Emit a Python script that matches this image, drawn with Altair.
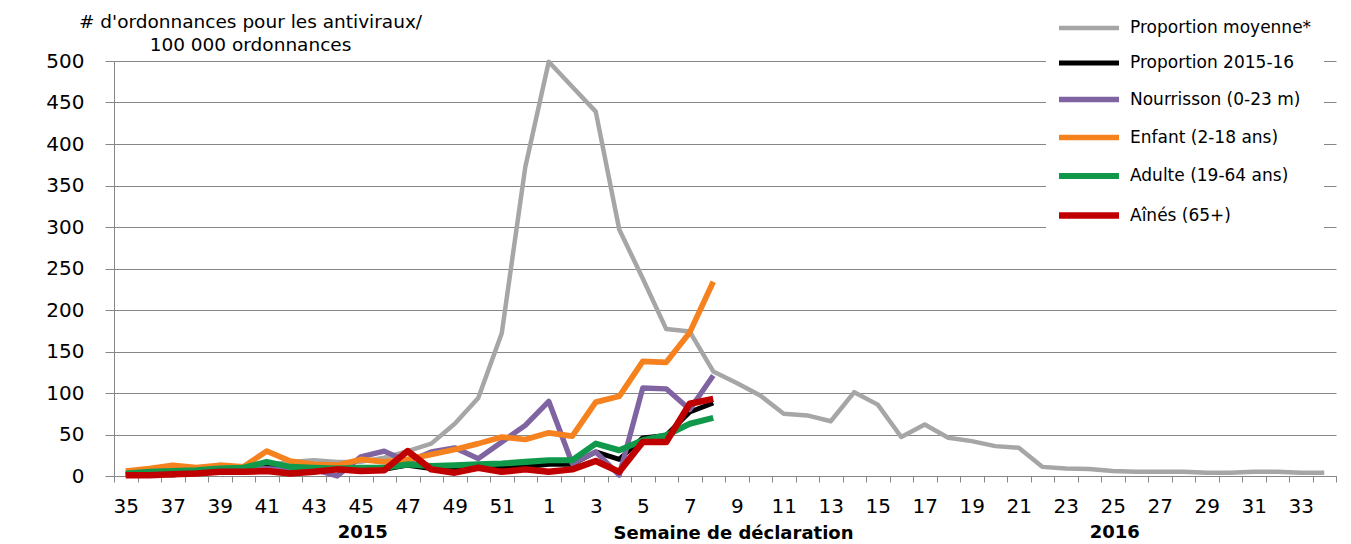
import altair as alt
import pandas as pd

# Categories: report weeks 35-52 (2015) then 1-34 (2016)
weeks = [str(w) for w in list(range(35, 53)) + list(range(1, 35))]

series_names = [
    "Proportion moyenne*",
    "Proportion 2015-16",
    "Nourrisson (0-23 m)",
    "Enfant (2-18 ans)",
    "Adulte (19-64 ans)",
    "Aînés (65+)",
]
colors = ["#A6A6A6", "#000000", "#8064A2", "#F5821F", "#10994A", "#C00000"]
widths = [4.5, 6.5, 3.5, 3.5, 3.5, 4]

moyenne = [4, 5, 6, 7, 9, 10, 13, 17, 19, 17, 17, 22, 30, 39, 63, 94, 172, 372,
           499, 469, 439, 297, 238, 177, 174, 126, 112, 97, 75, 73, 66, 101, 86, 47,
           62, 46, 42, 36, 34, 11, 9, 8.5, 6, 5, 5, 5, 4, 4, 5, 5, 4, 4]
saison = [2, 3, 4, 5, 7, 8, 12, 8, 9, 8, 7, 8, 13, 9, 8, 10, 10, 11,
          14, 14, 29, 20, 46, 49, 77, 88]
nourrisson = [2, 3, 1, 6, 12, 8, 9, 7, 8, 0, 23, 30, 17, 29, 34, 21, 41, 61,
              90, 15, 29, 1, 106, 105, 80, 121]
enfant = [6, 9, 13, 10, 13, 11, 30, 18, 14, 13, 20, 17, 20, 26, 32, 39, 47, 44,
          52, 48, 89, 96, 138, 137, 173, 234]
adulte = [3, 5, 6, 7, 9, 10, 17, 11, 10, 9, 10, 10, 14, 12, 13, 14, 15, 17,
          19, 19, 39, 31, 43, 49, 63, 70]
aines = [1, 1, 2, 3, 5, 5, 6, 3, 5, 8, 6, 7, 30, 8, 4, 10, 5, 8,
         5, 8, 18, 5, 41, 41, 87, 93]

all_values = [moyenne, saison, nourrisson, enfant, adulte, aines]

rows = []
for name, vals in zip(series_names, all_values):
    for wk, v in zip(weeks, vals):
        rows.append({"series": name, "week": wk, "value": v})
df = pd.DataFrame(rows)

year_labels = pd.DataFrame({"week": ["45", "25"], "label": ["2015", "2016"]})

FONT = "DejaVu Sans"
GRID = "#868686"

x_enc = alt.X(
    "week:N",
    sort=weeks,
    scale=alt.Scale(type="band", paddingInner=0, paddingOuter=0),
    axis=alt.Axis(
        title="Semaine de déclaration",
        titleFont=FONT,
        titleFontSize=18,
        titleFontWeight="bold",
        titleColor="#000000",
        titleX=619,
        titleY=62,
        titleAlign="center",
        titleBaseline="alphabetic",
        labelExpr="toNumber(datum.value) % 2 == 1 ? datum.value : ''",
        labelAngle=0,
        labelFont=FONT,
        labelFontSize=20,
        labelColor="#000000",
        labelPadding=14,
        labelOverlap=False,
        labelBound=False,
        tickBand="extent",
        tickSize=6,
        tickColor=GRID,
        domainColor=GRID,
        grid=False,
    ),
)

lines = alt.Chart(df).mark_line(strokeJoin="round").encode(
    x=x_enc,
    y=alt.Y(
        "value:Q",
        scale=alt.Scale(domain=[0, 500], nice=False),
        axis=alt.Axis(
            values=list(range(0, 501, 50)),
            title=["# d'ordonnances pour les antiviraux/", "100 000 ordonnances"],
            titleAngle=0,
            titleX=136,
            titleY=-34,
            titleAlign="center",
            titleBaseline="alphabetic",
            titleFont=FONT,
            titleFontSize=18.5,
            titleFontWeight="normal",
            titleColor="#000000",
            titleLineHeight=23,
            labelFont=FONT,
            labelFontSize=20,
            labelColor="#000000",
            labelPadding=21,
            tickSize=9,
            tickColor=GRID,
            domainColor=GRID,
            gridColor=GRID,
            gridWidth=1,
        ),
    ),
    color=alt.Color(
        "series:N",
        scale=alt.Scale(domain=series_names, range=colors),
        legend=alt.Legend(
            title=None,
            orient="none",
            legendX=932,
            legendY=-64,
            fillColor="white",
            padding=12,
            symbolType="M-1.8,0H1.8",
            symbolSize=1111,
            symbolOffset=11,
            symbolStrokeWidth=4,
            labelFont=FONT,
            labelFontSize=17,
            labelColor="#000000",
            labelOffset=21,
            labelLimit=0,
            rowPadding=6.5,
        ),
    ),
    strokeWidth=alt.StrokeWidth(
        "series:N",
        scale=alt.Scale(domain=series_names, range=widths),
        legend=None,
    ),
)

years = alt.Chart(year_labels).mark_text(
    font=FONT, fontSize=18, fontWeight="bold", baseline="alphabetic", dx=2, color="#000000"
).encode(
    x=alt.X("week:N", sort=weeks),
    y=alt.value(477),
    text="label:N",
)

chart = alt.layer(lines, years).properties(
    width=1222,
    height=415,
    autosize=alt.AutoSizeParams(type="none"),
    padding={"left": 106, "top": 53, "right": 5, "bottom": 70},
).configure_view(strokeWidth=0)

chart.save("out.html", embed_options={"renderer": "svg", "actions": False})
